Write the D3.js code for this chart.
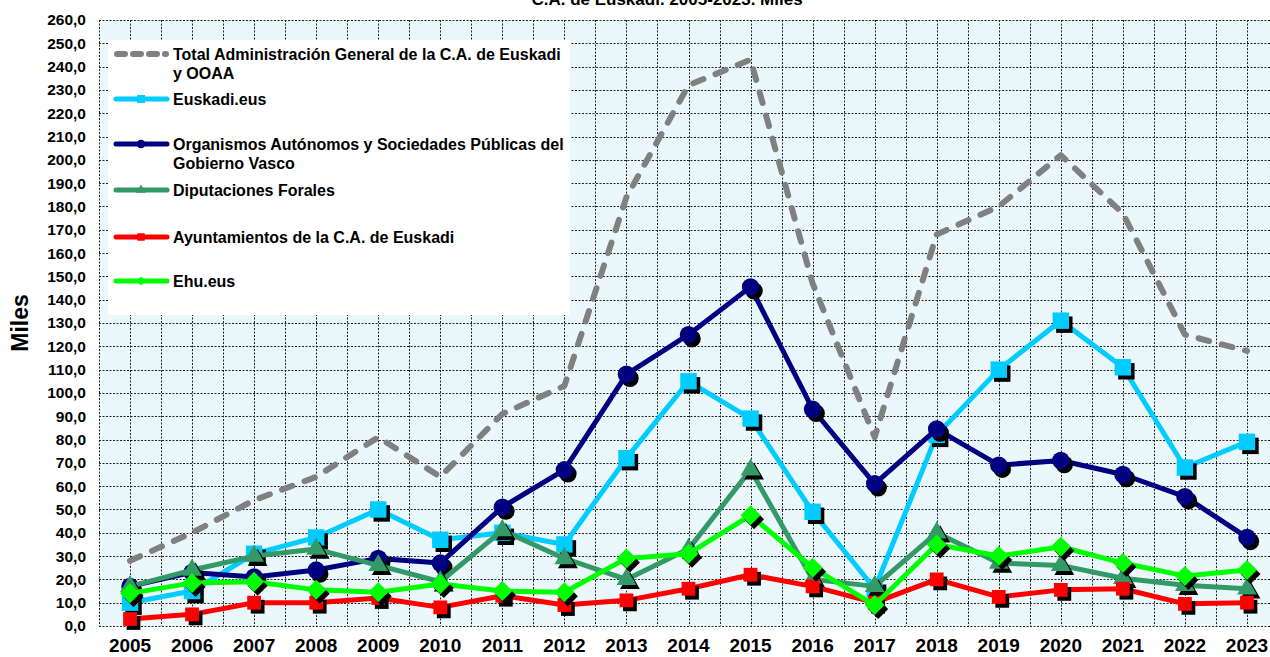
<!DOCTYPE html>
<html>
<head>
<meta charset="utf-8">
<script src="https://cdn.jsdelivr.net/npm/d3@7"></script>
<style>
  body { margin: 0; background: #fff; }
  svg { display: block; font-family: Arial, "Liberation Sans", sans-serif; }
</style>
</head>
<body>
<div class="chart"></div>
<script>
// data (miles)
var years = ["2005", "2006", "2007", "2008", "2009", "2010", "2011", "2012", "2013", "2014",
  "2015", "2016", "2017", "2018", "2019", "2020", "2021", "2022", "2023"];

var totalAdmin = [28, 40, 54, 64, 81, 64, 91, 103, 184, 232, 243, 147, 81, 168, 180, 202, 177, 125, 118];
var euskadiEus = [10, 15, 31, 38, 50, 37, 40, 35, 72, 105, 89, 49, 16, 82, 110, 131, 111, 68, 79];
var organismos = [17, 23, 21, 24, 29, 27, 51, 67, 108, 125, 145.5, 93, 61, 84.5, 69, 71, 65, 55.5, 38];
var diputaciones = [17, 24, 30, 33, 26, 19, 41, 29, 20, 33, 67, 20, 17, 40, 27, 26, 20.5, 17.5, 16];
var ayuntamientos = [3, 5, 10, 10, 12, 8, 13, 9, 11, 16, 22, 17, 10, 20, 12.5, 15.5, 16, 9.5, 10];
var ehuEus = [14, 18.5, 19, 15.5, 14.5, 18, 15, 14.5, 29, 31, 47.5, 25, 9, 35, 30, 34, 27, 21.5, 24];

var seriesNames = [
  ["Total Administración General de la C.A. de Euskadi", "y OOAA"],
  ["Euskadi.eus"],
  ["Organismos Autónomos y Sociedades Públicas del", "Gobierno Vasco"],
  ["Diputaciones Forales"],
  ["Ayuntamientos de la C.A. de Euskadi"],
  ["Ehu.eus"]
];

var yTicks = d3.range(0, 261, 10);

var svgWidth = 1270;
var svgHeight = 657;

var margin = { top: 20, right: -8, bottom: 31, left: 99 };
var width = svgWidth - margin.left - margin.right;
var height = svgHeight - margin.top - margin.bottom;

var svg = d3.select(".chart")
  .append("svg")
  .attr("width", svgWidth)
  .attr("height", svgHeight);

// title (its upper line is off the top of the original picture)
svg.append("text")
  .attr("x", 667)
  .attr("y", 5)
  .attr("text-anchor", "middle")
  .attr("font-size", "17px")
  .attr("font-weight", "bold")
  .text("C.A. de Euskadi. 2005-2023. Miles");

var chartGroup = svg.append("g")
  .attr("transform", `translate(${margin.left}, ${margin.top})`);

var xScale = d3.scaleBand()
  .domain(years)
  .range([0, width]);
var bw = xScale.bandwidth();
function cx(i) { return xScale(years[i]) + bw / 2; }

var yScale = d3.scaleLinear()
  .domain([0, 260])
  .range([height, 0]);

// plot background
chartGroup.append("rect")
  .attr("width", width)
  .attr("height", height)
  .attr("fill", "#eaf8fc");

// grid: horizontal every 10, vertical at band edges and centres
chartGroup.append("g")
  .selectAll("line")
  .data(yTicks)
  .enter()
  .append("line")
  .attr("x1", 0)
  .attr("x2", width)
  .attr("y1", d => Math.round(yScale(d)) + 0.5)
  .attr("y2", d => Math.round(yScale(d)) + 0.5)
  .attr("stroke", "#222")
  .attr("stroke-dasharray", "2,1.5");

var vLines = [];
years.forEach(function(y) {
  vLines.push(xScale(y));
  vLines.push(xScale(y) + bw / 2);
});
chartGroup.append("g")
  .selectAll("line")
  .data(vLines)
  .enter()
  .append("line")
  .attr("x1", d => Math.round(d) + 0.5)
  .attr("x2", d => Math.round(d) + 0.5)
  .attr("y1", 0)
  .attr("y2", height)
  .attr("stroke", "#222")
  .attr("stroke-dasharray", "2,1.5");

// y axis labels
var leftAxis = d3.axisLeft(yScale)
  .tickValues(yTicks)
  .tickSize(0)
  .tickPadding(13)
  .tickFormat(d => d3.format(".1f")(d).replace(".", ","));
chartGroup.append("g")
  .call(leftAxis)
  .call(g => g.select(".domain").remove())
  .selectAll("text")
  .attr("font-size", "15.5px")
  .attr("font-weight", "bold")
  .attr("font-family", "Arial, 'Liberation Sans', sans-serif")
  .attr("fill", "#000");

// x axis labels
var bottomAxis = d3.axisBottom(xScale).tickSize(0).tickPadding(13);
chartGroup.append("g")
  .attr("transform", `translate(0, ${height})`)
  .call(bottomAxis)
  .call(g => g.select(".domain").remove())
  .selectAll("text")
  .attr("font-size", "19px")
  .attr("font-weight", "bold")
  .attr("font-family", "Arial, 'Liberation Sans', sans-serif")
  .attr("fill", "#000");

// y axis title
svg.append("text")
  .attr("transform", "rotate(-90)")
  .attr("x", -323)
  .attr("y", 28)
  .attr("text-anchor", "middle")
  .attr("font-size", "23px")
  .attr("font-weight", "bold")
  .text("Miles");

// marker shapes
function diamondPath(s) {
  return `M0,${-s}L${s},0L0,${s}L${-s},0Z`;
}
var styles = [
  { data: totalAdmin, color: "#808080", width: 6, dash: "11,13", marker: null },
  { data: euskadiEus, color: "#00ccff", width: 5, marker: d3.symbol(d3.symbolSquare, 270)(), small: d3.symbol(d3.symbolSquare, 64)() },
  { data: organismos, color: "#000080", width: 5, marker: d3.symbol(d3.symbolCircle, 240)(), small: d3.symbol(d3.symbolCircle, 60)() },
  { data: diputaciones, color: "#339966", width: 5, marker: d3.symbol(d3.symbolTriangle, 170)(), small: d3.symbol(d3.symbolTriangle, 40)() },
  { data: ayuntamientos, color: "#ff0000", width: 5, marker: d3.symbol(d3.symbolSquare, 190)(), small: d3.symbol(d3.symbolSquare, 56)() },
  { data: ehuEus, color: "#00ff00", width: 5, marker: diamondPath(10), small: diamondPath(4.5) }
];

var line = d3.line()
  .x((d, i) => cx(i))
  .y(d => yScale(d));

styles.forEach(function(s) {
  var g = chartGroup.append("g");
  g.append("path")
    .attr("d", line(s.data))
    .attr("fill", "none")
    .attr("stroke", s.color)
    .attr("stroke-width", s.width)
    .attr("stroke-linejoin", "round")
    .attr("stroke-linecap", s.dash ? "round" : "butt")
    .attr("stroke-dasharray", s.dash || null);

  if (s.marker) {
    // black drop shadow then the marker
    g.selectAll(".shadow")
      .data(s.data)
      .enter()
      .append("path")
      .attr("class", "shadow")
      .attr("d", s.marker)
      .attr("transform", (d, i) => `translate(${cx(i) + 3.5}, ${yScale(d) + 4})`)
      .attr("fill", "#000");
    g.selectAll(".mk")
      .data(s.data)
      .enter()
      .append("path")
      .attr("class", "mk")
      .attr("d", s.marker)
      .attr("transform", (d, i) => `translate(${cx(i)}, ${yScale(d)})`)
      .attr("fill", s.color);
  }
});

// legend
var legend = svg.append("g");
legend.append("rect")
  .attr("x", 108)
  .attr("y", 40)
  .attr("width", 462)
  .attr("height", 275)
  .attr("fill", "#fff");

var rowY = [54, 99, 144, 190, 237, 281];
styles.forEach(function(s, k) {
  var y = rowY[k];
  legend.append("line")
    .attr("x1", s.dash ? 117 : 116)
    .attr("x2", s.dash ? 166 : 167)
    .attr("y1", y)
    .attr("y2", y)
    .attr("stroke", s.color)
    .attr("stroke-width", s.width)
    .attr("stroke-linecap", "round")
    .attr("stroke-dasharray", s.dash ? "8,8" : null);
  if (s.small) {
    legend.append("path")
      .attr("d", s.small)
      .attr("transform", `translate(141, ${y})`)
      .attr("fill", s.color);
  }
  seriesNames[k].forEach(function(t, j) {
    legend.append("text")
      .attr("x", 173)
      .attr("y", y + 6 + j * 18.5)
      .attr("font-size", "16px")
      .attr("font-weight", "bold")
      .text(t);
  });
});
</script>
</body>
</html>
